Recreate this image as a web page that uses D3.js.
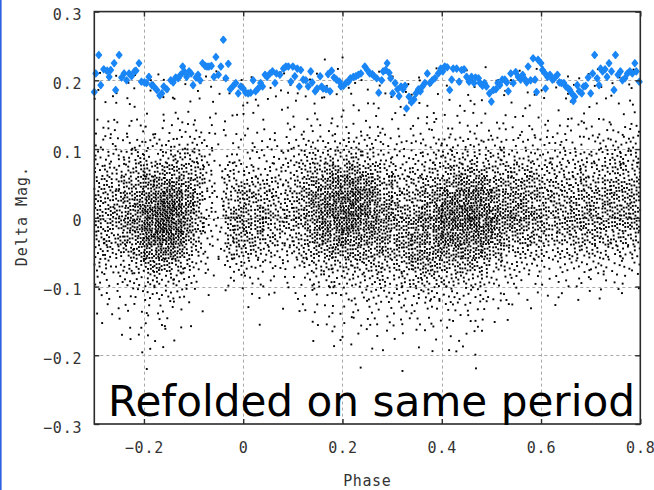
<!DOCTYPE html>
<html>
<head>
<meta charset="utf-8">
<script src="https://cdn.jsdelivr.net/npm/d3@7"></script>
<style>
  body { margin: 0; background: #fff; }
  svg { display: block; }
</style>
</head>
<body>
<svg id="chart" width="654" height="490"></svg>
<script>
// ---- axis ticks ----
const phaseTicks = [-0.2, 0, 0.2, 0.4, 0.6, 0.8];
const magTicks = [0.3, 0.2, 0.1, 0, -0.1, -0.2, -0.3];
const phaseGrid = [-0.2, 0, 0.2, 0.4, 0.6];
const magGrid = [0.2, 0.1, 0, -0.1, -0.2];

// ---- binned light-curve means (blue diamonds) ----
const meanPhase = [
  -0.300, -0.297, -0.291, -0.287, -0.281, -0.274, -0.270, -0.267, -0.260, -0.257,
  -0.250, -0.245, -0.240, -0.235, -0.230, -0.225, -0.219, -0.216, -0.210, -0.205,
  -0.199, -0.195, -0.190, -0.184, -0.180, -0.174, -0.168, -0.164, -0.160, -0.154,
  -0.146, -0.141, -0.136, -0.131, -0.126, -0.122, -0.119, -0.114, -0.109, -0.105,
  -0.101, -0.095, -0.091, -0.087, -0.082, -0.077, -0.073, -0.069, -0.064, -0.059,
  -0.055, -0.050, -0.045, -0.040, -0.035, -0.030, -0.026, -0.020, -0.015, -0.010,
  -0.005, 0.000, 0.005, 0.010, 0.015, 0.020, 0.025, 0.030, 0.035, 0.039,
  0.044, 0.048, 0.054, 0.059,
  0.064, 0.067, 0.074, 0.081, 0.086, 0.091, 0.096, 0.100, 0.104, 0.109,
  0.113, 0.116, 0.121, 0.126, 0.131, 0.136, 0.139, 0.145, 0.149, 0.155,
  0.158, 0.161, 0.167, 0.171, 0.175, 0.178, 0.183, 0.188, 0.194, 0.197,
  0.202, 0.207, 0.212, 0.216, 0.222, 0.227, 0.232, 0.237, 0.245, 0.250,
  0.255, 0.260, 0.264, 0.269, 0.273, 0.279, 0.282, 0.287, 0.290, 0.294,
  0.297, 0.301, 0.306, 0.311, 0.314, 0.318, 0.322, 0.326, 0.329, 0.334,
  0.339, 0.344, 0.348, 0.353, 0.357, 0.361, 0.366, 0.371, 0.376, 0.381,
  0.386, 0.393, 0.398, 0.402, 0.406, 0.411, 0.416, 0.420, 0.423,
  0.430, 0.435, 0.440, 0.445, 0.450, 0.455, 0.460, 0.465, 0.468, 0.474,
  0.477, 0.482, 0.486, 0.490, 0.496, 0.500, 0.504, 0.509, 0.513, 0.517,
  0.522, 0.527, 0.531, 0.534, 0.539, 0.544, 0.549, 0.554, 0.559, 0.563,
  0.568, 0.571, 0.574, 0.579, 0.584, 0.588, 0.591, 0.594, 0.600, 0.603,
  0.607, 0.609, 0.613, 0.618, 0.623, 0.628, 0.633, 0.637, 0.641, 0.646,
  0.650, 0.655, 0.658, 0.662, 0.665, 0.668, 0.673, 0.677, 0.682, 0.686,
  0.690, 0.695, 0.700, 0.704, 0.708, 0.713, 0.717, 0.720, 0.724, 0.729,
  0.733, 0.737, 0.742, 0.747, 0.750, 0.755, 0.760, 0.764, 0.769, 0.774,
  0.779, 0.784, 0.789, 0.792, 0.798
];
const meanMag = [
  0.183, 0.210, 0.237, 0.193, 0.216, 0.214, 0.205, 0.215, 0.225, 0.186,
  0.237, 0.204, 0.210, 0.200, 0.210, 0.206, 0.213, 0.214, 0.225, 0.198,
  0.197, 0.196, 0.205, 0.193, 0.191, 0.186, 0.178, 0.181, 0.191, 0.187,
  0.200, 0.197, 0.204, 0.203, 0.208, 0.220, 0.213, 0.205, 0.213, 0.210,
  0.193, 0.204, 0.208, 0.200, 0.225, 0.221, 0.220, 0.220, 0.221, 0.205,
  0.234, 0.208, 0.220, 0.259, 0.203, 0.224, 0.187, 0.192, 0.196, 0.181,
  0.191, 0.188, 0.182, 0.181, 0.182, 0.200, 0.184, 0.188, 0.196, 0.191,
  0.208, 0.205, 0.210, 0.213,
  0.196, 0.210, 0.208, 0.217, 0.220, 0.220, 0.198, 0.220, 0.206, 0.217,
  0.191, 0.215, 0.201, 0.200, 0.191, 0.213, 0.197, 0.184, 0.188, 0.206,
  0.191, 0.188, 0.187, 0.209, 0.184, 0.214, 0.204, 0.201, 0.198, 0.191,
  0.192, 0.196, 0.198, 0.203, 0.205, 0.206, 0.208, 0.210, 0.220, 0.215,
  0.210, 0.209, 0.206, 0.203, 0.182, 0.200, 0.213, 0.215, 0.225, 0.211,
  0.203, 0.181, 0.196, 0.187, 0.177, 0.191, 0.187, 0.192, 0.159, 0.176,
  0.168, 0.172, 0.181, 0.187, 0.184, 0.191, 0.196, 0.210, 0.196, 0.200,
  0.203, 0.210, 0.217, 0.213, 0.220, 0.219, 0.186, 0.201, 0.217,
  0.217, 0.198, 0.215, 0.216, 0.205, 0.198, 0.205, 0.196, 0.204, 0.203,
  0.196, 0.192, 0.196, 0.191, 0.181, 0.169, 0.186, 0.187, 0.196, 0.193,
  0.201, 0.201, 0.197, 0.184, 0.210, 0.196, 0.212, 0.205, 0.201, 0.208,
  0.201, 0.197, 0.220, 0.200, 0.232, 0.201, 0.183, 0.230, 0.225, 0.215,
  0.211, 0.188, 0.205, 0.208, 0.201, 0.204, 0.208, 0.197, 0.196, 0.196,
  0.191, 0.188, 0.186, 0.181, 0.170, 0.176, 0.193, 0.184, 0.181, 0.191,
  0.192, 0.204, 0.181, 0.210, 0.237, 0.203, 0.193, 0.217, 0.213, 0.216,
  0.205, 0.225, 0.213, 0.186, 0.237, 0.208, 0.213, 0.200, 0.203, 0.210,
  0.213, 0.210, 0.225, 0.213, 0.198
];

// ---- individual observations, counted per 0.02 phase x 0.02 mag bin ----
// one string per phase bin (from -0.30 upward); characters run from
// mag 0.26 downward, each a base-36 count of observations in that bin
const binPhaseStart = -0.30;
const binMagTop = 0.26;
const binStep = 0.02;
const obsCounts = [
  "001111235689aa97532110000",
  "00102123579abba8532110000",
  "00111123579bccb8532111000",
  "0001212368bdffda642211000",
  "001111247adgiigc853211100",
  "001201246afkopoic64221110",
  "001111246bhnrsqkd74321100",
  "001111247ciossqkd74221000",
  "001012248chmppmga53211000",
  "001111248behihea642110000",
  "000211358abbba86421100000",
  "0011112345555543211000000",
  "0011011112233322110000000",
  "001102123579aa97421000000",
  "00111112358bddc9521000000",
  "00111112358bdec9531100000",
  "00012112358bddb8521010000",
  "00111112358acb96321000000",
  "001111123579a975311000000",
  "001210234579a975321100000",
  "00111123579bcb97422100000",
  "0011112469cefec9642210000",
  "001022247aehihfb743211000",
  "011111247chklkhd853221000",
  "001111248djnnlid853211100",
  "011201258ekoomie953221100",
  "001111258ekoomid953321010",
  "001111247chlmkhd964321100",
  "001112246aehiigd964321000",
  "0011112358beggfc964221100",
  "00111113469bdeec964321000",
  "00022113468aceeda74321001",
  "00111123468bdfgfc85321100",
  "0011112357adgiigd95321000",
  "0011022469cgjkjgc85321100",
  "001111247aeilmkgb74321100",
  "001111247bgknnlgb74321100",
  "001021247bhloolgb64321100",
  "001111247bhloolga64221110",
  "001111247afjmmje953211000",
  "0012102469dgiifb742210000",
  "0011112369cfgfc8532110000",
  "0011112369cfgfc8532100000",
  "0001122369cefeb7421100000",
  "0011112358bdeda6421000000",
  "00111123579bcb96321000000",
  "00120123579bcb96321100000",
  "00111123579abb96321000000",
  "00111123579bcca7421000000",
  "0010122357acddb7421000000",
  "0011112468acdca7421000000",
  "0011112468bcdca6421000000",
  "0011203479bddc96321000000",
  "0011113579bcdc96321000000",
  "0011113579bcdc96311000000"
];

// ---- labels ----
const xTitle = "Phase";
const yTitle = "Delta Mag.";
const note = "Refolded on same period";

const svg = d3.select("#chart");
const W = 654, H = 490;
const plotL = 94.3, plotR = 640.3, plotT = 11.6, plotB = 424;

const x = d3.scaleLinear().domain([-0.3, 0.8]).range([plotL, plotR]);
const y = d3.scaleLinear().domain([-0.3, 0.3]).range([plotB, plotT]);

svg.append("rect").attr("width", W).attr("height", H).attr("fill", "#fff");
// window edge on the left
svg.append("rect").attr("x", 0).attr("y", 0).attr("width", 1.6).attr("height", H).attr("fill", "#2f62e0");

const monoFont = "'DejaVu Sans Mono', 'Liberation Mono', monospace";

// dashed grid
const grid = svg.append("g").attr("stroke", "#a8a8a8").attr("stroke-width", 1).attr("stroke-dasharray", "3,3");
grid.selectAll("line.v").data(phaseGrid).join("line").attr("class", "v")
  .attr("x1", d => Math.round(x(d)) + 0.5).attr("x2", d => Math.round(x(d)) + 0.5)
  .attr("y1", plotT).attr("y2", plotB);
grid.selectAll("line.h").data(magGrid).join("line").attr("class", "h")
  .attr("y1", d => Math.round(y(d)) + 0.5).attr("y2", d => Math.round(y(d)) + 0.5)
  .attr("x1", plotL).attr("x2", plotR);

// spread each bin's observations over the bin: a per-bin hashed start into
// an R2 low-discrepancy walk keeps neighbouring bins from lining up
const g1 = 0.7548776662, g2 = 0.5698402910;
function binHash(c, r) {
  let h = Math.imul(c + 1, 374761393) ^ Math.imul(r + 1, 668265263);
  h = Math.imul(h ^ (h >>> 13), 1274126177);
  return ((h ^ (h >>> 16)) >>> 0) % 4096;
}
const obs = [];
obsCounts.forEach((col, c) => {
  [...col].forEach((ch, r) => {
    const n = parseInt(ch, 36);
    const s = binHash(c, r);
    for (let k = 0; k < n; k++) {
      const fx = (0.5 + (s + k) * g1) % 1;
      const fy = (0.5 + (s + k) * g2) % 1;
      obs.push([binPhaseStart + (c + fx) * binStep, binMagTop - (r + fy) * binStep]);
    }
  });
});
svg.append("g").attr("fill", "#000")
  .selectAll("rect").data(obs).join("rect")
  .attr("x", d => x(d[0]) - 0.95).attr("y", d => y(d[1]) - 0.95)
  .attr("width", 1.9).attr("height", 1.9);

// blue diamonds for the binned means
const means = meanPhase.map((p, i) => [p, meanMag[i]]);
svg.append("g")
  .selectAll("path").data(means).join("path")
  .attr("transform", d => `translate(${x(d[0])},${y(d[1])})`)
  .attr("d", "M0,-3.3L2.7,0L0,3.3L-2.7,0Z")
  .attr("fill", "#1a86f6").attr("stroke", "#1a86f6")
  .attr("stroke-width", 1.5).attr("stroke-linejoin", "round");

// frame
svg.append("rect").attr("x", plotL).attr("y", plotT)
  .attr("width", plotR - plotL).attr("height", plotB - plotT)
  .attr("fill", "none").attr("stroke", "#2a2a2a").attr("stroke-width", 1.6);

// axes with inward ticks on all four sides
const tickFmt = d => d === 0 ? "0" : d3.format(".1f")(d);
const styleAxis = g => {
  g.select(".domain").remove();
  g.selectAll(".tick line").attr("stroke", "#2a2a2a").attr("stroke-width", 1.4);
  g.selectAll("text").attr("font-family", monoFont).attr("font-size", 15)
    .attr("letter-spacing", 0.8).attr("fill", "#333");
};
const xAxis = svg.append("g").attr("transform", `translate(0,${plotB})`)
  .call(d3.axisBottom(x).tickValues(phaseTicks).tickFormat(tickFmt).tickSize(-5).tickPadding(0))
  .call(styleAxis);
xAxis.selectAll("text").attr("y", 29).attr("dy", null);

svg.append("g").attr("transform", `translate(0,${plotT})`)
  .call(d3.axisTop(x).tickValues(phaseTicks).tickFormat("").tickSize(-5))
  .call(styleAxis);

const yAxis = svg.append("g").attr("transform", `translate(${plotL},0)`)
  .call(d3.axisLeft(y).tickValues(magTicks).tickFormat(tickFmt).tickSize(-5).tickPadding(0))
  .call(styleAxis);
yAxis.selectAll("text").attr("x", -12).attr("dy", null).attr("y", 8);

svg.append("g").attr("transform", `translate(${plotR},0)`)
  .call(d3.axisRight(y).tickValues(magTicks).tickFormat("").tickSize(-5))
  .call(styleAxis);

// axis titles
svg.append("text").attr("x", (plotL + plotR) / 2).attr("y", 486)
  .attr("text-anchor", "middle").attr("font-family", monoFont).attr("font-size", 15)
  .attr("letter-spacing", 0.6).attr("fill", "#333").text(xTitle);
svg.append("text").attr("transform", "translate(27,216) rotate(-90)")
  .attr("text-anchor", "middle").attr("font-family", monoFont).attr("font-size", 15)
  .attr("letter-spacing", 1).attr("fill", "#333").text(yTitle);

// annotation across the lower plot area
const noteText = svg.append("text").attr("x", 108).attr("y", 416)
  .attr("font-family", "'DejaVu Sans', Verdana, sans-serif").attr("font-size", 42)
  .attr("fill", "#000").text(note);
const natural = noteText.node().getComputedTextLength();
noteText.attr("font-size", 42 * 527 / natural);
</script>
</body>
</html>
